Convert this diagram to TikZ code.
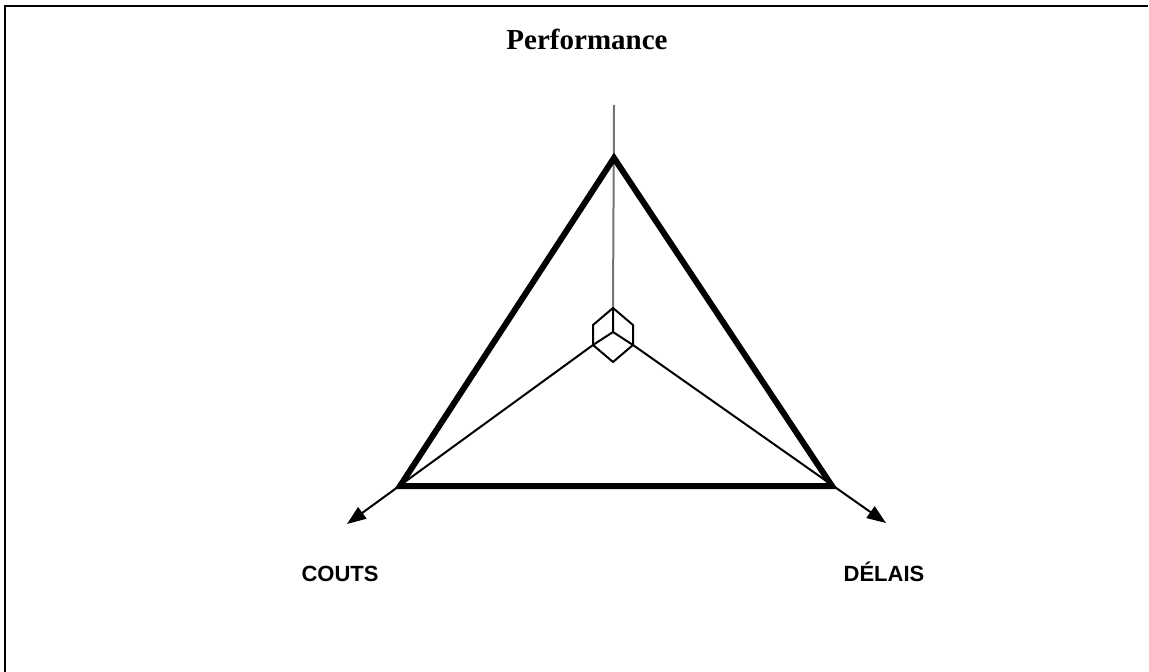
\documentclass[tikz,border=0pt]{standalone}
\usepackage{fontspec}
\setmainfont{Liberation Serif}
\newfontfamily\labelfont{Liberation Sans}
\usetikzlibrary{arrows.meta}
\begin{document}
\begin{tikzpicture}[x=1pt,y=-1pt,
  frameline/.style={line width=2.5pt},
  triline/.style={line width=6pt, line join=miter},
  axisline/.style={line width=2pt},
  vaxis/.style={line width=2pt, draw=black!55},
  cubeline/.style={line width=2pt, line join=round},
  arrowtip/.style={-{Triangle[length=19pt,width=14pt]}},
  axislabel/.style={font=\labelfont\bfseries\fontsize{22}{25}\selectfont, anchor=base},
  titlelabel/.style={font=\bfseries\fontsize{29}{33}\selectfont, anchor=base}]
\useasboundingbox (0,0) rectangle (1149,672);
% frame
\coordinate (fbl) at (5,672);
\coordinate (ftl) at (5,6);
\coordinate (ftr) at (1148,6);
\draw[frameline] (fbl) -- (ftl) -- (ftr);
% title
\node[titlelabel] (title) at (587,49) {Performance};
% triangle vertices
\coordinate (A) at (614,158);
\coordinate (B) at (400,486);
\coordinate (C) at (832,486);
% cube vertices
\coordinate (ct) at (613,308);
\coordinate (cul) at (593,325);
\coordinate (cll) at (593,345);
\coordinate (cb) at (613,362);
\coordinate (clr) at (633,345);
\coordinate (cur) at (633,325);
\coordinate (cc) at (613,332);
% axis ends
\coordinate (vtop) at (614,105);
\coordinate (lend) at (347,524);
\coordinate (rend) at (886,523);
% vertical axis
\draw[vaxis] (vtop) -- (ct);
% oblique axes
\draw[axisline,arrowtip] (cll) -- (lend);
\draw[axisline,arrowtip] (clr) -- (rend);
% triangle
\draw[triline] (A) -- (B) -- (C) -- cycle;
% cube
\draw[cubeline] (ct) -- (cul) -- (cll) -- (cb) -- (clr) -- (cur) -- cycle;
\draw[cubeline] (cc) -- (ct) (cc) -- (cll) (cc) -- (clr);
% labels
\node[axislabel] (couts) at (340,581) {COUTS};
\node[axislabel] (delais) at (884,581) {DÉLAIS};
\end{tikzpicture}
\end{document}
